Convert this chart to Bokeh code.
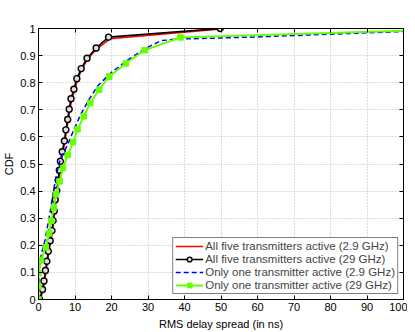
from bokeh.plotting import figure
from bokeh.models import Range1d, FixedTicker, LinearAxis, Legend, CustomJSTickFormatter
from bokeh.embed import file_html
from bokeh.resources import INLINE

# ---- data ----
red_x = [0.5, 1.3, 1.7, 2.1, 2.5, 2.9, 3.4, 3.9, 4.2, 4.5, 4.8, 5.2, 5.6, 5.9, 6.2, 6.7, 7.3, 7.7, 8.2, 8.6, 9.2, 10.0, 10.8, 12.0, 13.6, 16.1, 19.6, 50.0]
red_y = [0.0, 0.037, 0.068, 0.107, 0.141, 0.178, 0.217, 0.254, 0.291, 0.327, 0.368, 0.402, 0.44, 0.477, 0.51, 0.545, 0.585, 0.626, 0.664, 0.702, 0.741, 0.776, 0.815, 0.852, 0.89, 0.926, 0.962, 0.998]

black_x = [0.3, 1.1, 1.5, 1.9, 2.3, 2.7, 3.2, 3.7, 4.0, 4.3, 4.6, 5.0, 5.4, 5.7, 6.0, 6.5, 7.1, 7.5, 8.0, 8.4, 8.9, 9.7, 10.5, 11.7, 13.3, 15.8, 19.2, 49.8]
black_y = [0.0, 0.037, 0.068, 0.107, 0.141, 0.178, 0.217, 0.254, 0.291, 0.327, 0.368, 0.402, 0.44, 0.477, 0.51, 0.545, 0.585, 0.626, 0.664, 0.702, 0.741, 0.776, 0.815, 0.852, 0.89, 0.928, 0.968, 1.0]

blue_x = [0.0, 0.2, 0.8, 1.8, 2.6, 3.4, 4.1, 4.9, 5.8, 7.0, 8.0, 9.8, 11.6, 13.9, 16.2, 19.9, 24.4, 29.5, 33.6, 38.1, 50.0, 60.0, 80.0, 100.0]
blue_y = [0.0, 0.1, 0.17, 0.22, 0.28, 0.34, 0.40, 0.46, 0.51, 0.545, 0.572, 0.63, 0.684, 0.739, 0.788, 0.837, 0.883, 0.928, 0.955, 0.961, 0.965, 0.969, 0.979, 0.989]

green_x = [0.0, 0.0, 0.0, 0.7, 2.0, 2.9, 3.5, 4.2, 4.8, 5.8, 6.7, 8.0, 9.5, 10.7, 12.4, 14.2, 16.6, 19.4, 23.9, 29.1, 38.9, 120.0]
green_y = [0.0, 0.049, 0.097, 0.145, 0.193, 0.244, 0.29, 0.339, 0.388, 0.436, 0.485, 0.533, 0.581, 0.628, 0.676, 0.725, 0.774, 0.823, 0.871, 0.92, 0.967, 1.0]

labels = ["All five transmitters active (2.9 GHz)",
          "All five transmitters active (29 GHz)",
          "Only one transmitter active (2.9 GHz)",
          "Only one transmitter active (29 GHz)"]

x_ticks = [0, 10, 20, 30, 40, 50, 60, 70, 80, 90, 100]
y_ticks = [0, 0.1, 0.2, 0.3, 0.4, 0.5, 0.6, 0.7, 0.8, 0.9, 1]
y_tick_labels = ["0", "0.1", "0.2", "0.3", "0.4", "0.5", "0.6", "0.7", "0.8", "0.9", "1"]

FONT = "Liberation Sans"

p = figure(frame_width=365, frame_height=271, output_backend="svg", toolbar_location=None,
           x_range=Range1d(0, 100), y_range=Range1d(0, 1),
           min_border_top=28, min_border_right=4, min_border_left=0, min_border_bottom=0,
           background_fill_color="white", border_fill_color="white")
p.outline_line_color = "black"
p.outline_line_width = 1

for ax in (p.xaxis[0], p.yaxis[0]):
    ax.major_tick_in = 4
    ax.major_tick_out = 0
    ax.minor_tick_in = 0
    ax.minor_tick_out = 0
    ax.major_label_text_font = FONT
    ax.major_label_text_font_size = "11px"
    ax.major_label_text_color = "black"
    ax.axis_label_text_font = FONT
    ax.axis_label_text_font_size = "11px"
    ax.axis_label_text_font_style = "normal"
    ax.axis_label_text_color = "black"
    ax.axis_line_color = "black"
    ax.major_tick_line_color = "black"

p.xaxis[0].ticker = FixedTicker(ticks=x_ticks)
p.yaxis[0].ticker = FixedTicker(ticks=y_ticks)
p.yaxis[0].major_label_overrides = {t: s for t, s in zip(y_ticks, y_tick_labels)}
p.xaxis[0].axis_label = "RMS delay spread (in ns)"
p.yaxis[0].axis_label = "CDF"
p.xaxis[0].major_label_standoff = 3
p.yaxis[0].major_label_standoff = 3
p.xaxis[0].axis_label_standoff = 4
p.yaxis[0].axis_label_standoff = 2

# mirrored tick marks on top and right (no labels)
blank = CustomJSTickFormatter(code="return ''")
top = LinearAxis(ticker=FixedTicker(ticks=x_ticks), major_tick_in=4, major_tick_out=0,
                 minor_tick_in=0, minor_tick_out=0, formatter=blank,
                 major_label_standoff=0, axis_line_color="black")
right = LinearAxis(ticker=FixedTicker(ticks=y_ticks), major_tick_in=4, major_tick_out=0,
                   minor_tick_in=0, minor_tick_out=0, formatter=blank,
                   major_label_standoff=0, axis_line_color="black")
p.add_layout(top, "above")
p.add_layout(right, "right")

p.grid.grid_line_color = "#b8b8b8"
p.grid.grid_line_dash = "1 2"
p.grid.grid_line_width = 1
p.xgrid.ticker = FixedTicker(ticks=x_ticks)
p.ygrid.ticker = FixedTicker(ticks=y_ticks)

r_red = p.line(red_x, red_y, line_color="#FF0000", line_width=1.5)
r_bl = p.line(black_x, black_y, line_color="black", line_width=1.6)
r_blm = p.scatter(black_x, black_y, marker="circle", size=6, line_color="black",
                  line_width=1.4, fill_color="#dddddd")
r_blue = p.line(blue_x, blue_y, line_color="#0000FF", line_width=1.5, line_dash="5 3")
r_gr = p.line(green_x, green_y, line_color="#66FF00", line_width=2)
r_grm = p.scatter(green_x, green_y, marker="square", size=5.5, line_color="#66FF00",
                  fill_color="#66FF00")

legend = Legend(items=[(labels[0], [r_red]), (labels[1], [r_bl, r_blm]),
                       (labels[2], [r_blue]), (labels[3], [r_gr, r_grm])],
                location="bottom_right")
legend.label_text_font = FONT
legend.label_text_font_size = "11.5px"
legend.label_height = 12
legend.glyph_height = 12
legend.glyph_width = 28
legend.spacing = 1
legend.padding = 2
legend.margin = 5
legend.label_standoff = 2
legend.border_line_color = "black"
legend.border_line_width = 1
legend.background_fill_alpha = 1
p.add_layout(legend, "center")

open("out.html", "w").write(file_html(p, INLINE))
